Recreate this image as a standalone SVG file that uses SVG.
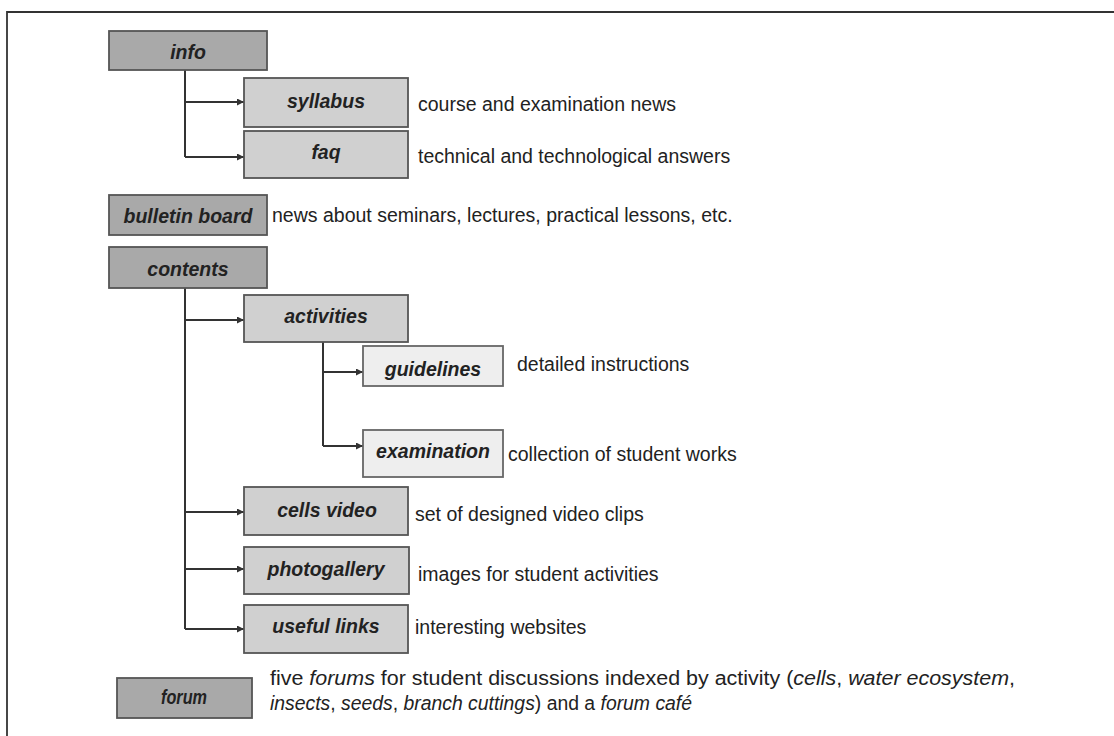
<svg xmlns="http://www.w3.org/2000/svg" width="1114" height="736" viewBox="0 0 1114 736">
<defs>
<marker id="ah" viewBox="0 0 10 10" refX="10" refY="5" markerWidth="8" markerHeight="7" markerUnits="userSpaceOnUse" orient="auto">
<path d="M0,0 L10,5 L0,10 z" fill="#333"/>
</marker>
<style>
.dark{fill:#a9a9a9;stroke:#555;stroke-width:1.8}
.mid{fill:#d0d0d0;stroke:#555;stroke-width:1.8}
.light{fill:#eeeeee;stroke:#666;stroke-width:1.8}
.lbl{font-family:"Liberation Sans",Arial,sans-serif;font-weight:bold;font-style:italic;font-size:19.5px;fill:#222;text-anchor:middle}
.desc{font-family:"Liberation Sans",Arial,sans-serif;font-size:19.5px;fill:#222}
.fdesc{font-family:"Liberation Sans Narrow","Liberation Sans",Arial,sans-serif;font-size:19.5px;fill:#222}
.con{fill:none;stroke:#333;stroke-width:2}
.arr{fill:none;stroke:#333;stroke-width:2;marker-end:url(#ah)}
.it{font-style:italic}
</style>
</defs>
<rect x="0" y="0" width="1114" height="736" fill="#fff"/>
<path d="M7,736 L7,12 L1114,12" fill="none" stroke="#333" stroke-width="1.8"/>

<g id="connectors">
<path class="con" d="M185,70 L185,157"/>
<path class="arr" d="M185,102 L244,102"/>
<path class="arr" d="M185,157 L244,157"/>
<path class="con" d="M185,288 L185,629"/>
<path class="arr" d="M185,320 L244,320"/>
<path class="arr" d="M185,512 L244,512"/>
<path class="arr" d="M185,569 L244,569"/>
<path class="arr" d="M185,629 L244,629"/>
<path class="con" d="M323,342 L323,446"/>
<path class="arr" d="M323,372 L363,372"/>
<path class="arr" d="M323,446 L363,446"/>
</g>

<g id="info"><rect class="dark" x="109" y="31" width="158" height="39"/><text class="lbl" x="188" y="59">info</text></g>
<g id="syllabus"><rect class="mid" x="244" y="78" width="164" height="49"/><text class="lbl" x="326" y="108">syllabus</text><text class="desc" x="418" y="111">course and examination news</text></g>
<g id="faq"><rect class="mid" x="244" y="131" width="164" height="47"/><text class="lbl" x="326" y="159">faq</text><text class="desc" x="418" y="163">technical and technological answers</text></g>
<g id="bulletin"><rect class="dark" x="109" y="195" width="158" height="40"/><text class="lbl" x="188" y="223">bulletin board</text><text class="desc" x="272" y="222">news about seminars, lectures, practical lessons, etc.</text></g>
<g id="contents"><rect class="dark" x="109" y="247" width="158" height="41"/><text class="lbl" x="188" y="276">contents</text></g>
<g id="activities"><rect class="mid" x="244" y="295" width="164" height="47"/><text class="lbl" x="326" y="323">activities</text></g>
<g id="guidelines"><rect class="light" x="363" y="346" width="140" height="40"/><text class="lbl" x="433" y="376">guidelines</text><text class="desc" x="517" y="371">detailed instructions</text></g>
<g id="examination"><rect class="light" x="363" y="430" width="140" height="47"/><text class="lbl" x="433" y="458">examination</text><text class="desc" x="508" y="461">collection of student works</text></g>
<g id="cellsvideo"><rect class="mid" x="244" y="487" width="164" height="48"/><text class="lbl" x="327" y="517">cells video</text><text class="desc" x="415" y="521">set of designed video clips</text></g>
<g id="photogallery"><rect class="mid" x="244" y="547" width="165" height="47"/><text class="lbl" x="326" y="576">photogallery</text><text class="desc" x="418" y="581">images for student activities</text></g>
<g id="usefullinks"><rect class="mid" x="244" y="605" width="164" height="48"/><text class="lbl" x="326" y="633">useful links</text><text class="desc" x="415" y="634">interesting websites</text></g>
<g id="forum"><rect class="dark" x="117" y="678" width="135" height="40"/><text class="lbl" x="184" y="704" style="font-size:20px" textLength="46" lengthAdjust="spacingAndGlyphs">forum</text>
<text class="fdesc" x="270" y="685" textLength="745" lengthAdjust="spacingAndGlyphs">five <tspan class="it">forums</tspan> for student discussions indexed by activity (<tspan class="it">cells</tspan>, <tspan class="it">water ecosystem</tspan>,</text>
<text class="fdesc" x="270" y="710" textLength="422" lengthAdjust="spacingAndGlyphs"><tspan class="it">insects</tspan>, <tspan class="it">seeds</tspan>, <tspan class="it">branch cuttings</tspan>) and a <tspan class="it">forum café</tspan></text>
</g>
</svg>
